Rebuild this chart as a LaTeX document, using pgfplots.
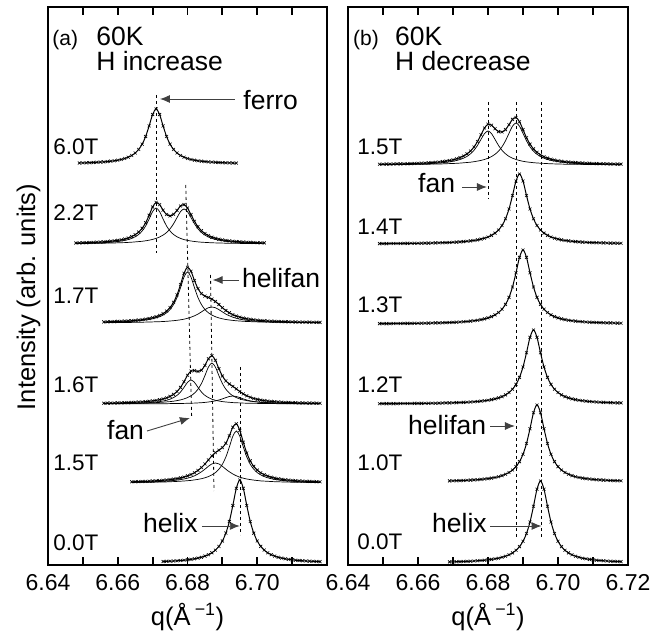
\documentclass[border=0pt]{standalone}
\usepackage{fontspec}
\setmainfont{Liberation Sans}
\usepackage{pgfplots}
\usepackage{pgfplotstable}
\pgfplotsset{compat=1.18}
\usetikzlibrary{arrows.meta}

% Stacked diffraction profiles: q (1/A) against intensity (offset units).
% Columns: t = measured/fitted total, other columns = fit components.

% ---------- (a) field increasing ----------
\pgfplotstableread[row sep=\\]{
q t\\
6.649 402.0\\6.650 402.1\\6.651 402.2\\6.652 402.3\\6.653 402.5\\6.654 402.7\\6.655 402.9\\6.656 403.1\\
6.657 403.4\\6.658 403.8\\6.659 404.2\\6.660 404.8\\6.661 405.5\\6.662 406.5\\6.663 407.8\\6.664 409.5\\
6.665 412.0\\6.666 415.6\\6.667 420.8\\6.668 428.5\\6.669 439.1\\6.670 450.5\\6.671 456.0\\6.672 450.5\\
6.673 439.1\\6.674 428.5\\6.675 420.8\\6.676 415.6\\6.677 412.0\\6.678 409.5\\6.679 407.8\\6.680 406.5\\
6.681 405.5\\6.682 404.8\\6.683 404.2\\6.684 403.8\\6.685 403.4\\6.686 403.1\\6.687 402.9\\6.688 402.7\\
6.689 402.5\\6.690 402.3\\6.691 402.2\\6.692 402.1\\6.693 402.0\\6.694 401.9\\
}\Lsix

\pgfplotstableread[row sep=\\]{
q a b t\\
6.648 321.6 321.4 322.0\\6.649 321.7 321.5 322.1\\6.650 321.7 321.5 322.2\\6.651 321.8 321.5 322.3\\
6.652 321.9 321.6 322.5\\6.653 322.0 321.6 322.6\\6.654 322.1 321.7 322.8\\6.655 322.2 321.7 323.0\\
6.656 322.4 321.8 323.2\\6.657 322.6 321.9 323.4\\6.658 322.8 322.0 323.8\\6.659 323.1 322.0 324.2\\
6.660 323.5 322.2 324.6\\6.661 324.0 322.3 325.2\\6.662 324.6 322.4 326.0\\6.663 325.4 322.6 327.0\\
6.664 326.6 322.8 328.4\\6.665 328.2 323.1 330.3\\6.666 330.5 323.4 332.9\\6.667 334.0 323.7 336.7\\
6.668 339.0 324.2 342.2\\6.669 345.9 324.8 349.7\\6.670 353.4 325.6 358.0\\6.671 357.0 326.6 362.6\\
6.672 353.4 328.0 360.4\\6.673 345.9 329.9 354.8\\6.674 339.0 332.5 350.5\\6.675 334.0 336.2 349.1\\
6.676 330.5 341.2 350.7\\6.677 328.2 347.4 354.6\\6.678 326.6 353.4 359.0\\6.679 325.4 356.0 360.4\\
6.680 324.6 353.4 357.0\\6.681 324.0 347.4 350.4\\6.682 323.5 341.2 343.7\\6.683 323.1 336.2 338.3\\
6.684 322.8 332.5 334.3\\6.685 322.6 329.9 331.5\\6.686 322.4 328.0 329.4\\6.687 322.2 326.6 327.8\\
6.688 322.1 325.6 326.7\\6.689 322.0 324.8 325.8\\6.690 321.9 324.2 325.1\\6.691 321.8 323.7 324.5\\
6.692 321.7 323.4 324.1\\6.693 321.7 323.1 323.7\\6.694 321.6 322.8 323.4\\6.695 321.6 322.6 323.2\\
6.696 321.5 322.4 322.9\\6.697 321.5 322.3 322.7\\6.698 321.4 322.2 322.6\\6.699 321.4 322.0 322.5\\
6.700 321.4 322.0 322.3\\6.701 321.4 321.9 322.2\\6.702 321.3 321.8 322.1\\
}\Ltwo

\pgfplotstableread[row sep=\\]{
q a c t\\
6.656 242.8 242.3 243.1\\6.657 242.9 242.4 243.2\\6.658 242.9 242.4 243.3\\6.659 243.0 242.4 243.4\\
6.660 243.1 242.4 243.6\\6.661 243.2 242.5 243.7\\6.662 243.4 242.5 243.9\\6.663 243.5 242.5 244.1\\
6.664 243.7 242.6 244.3\\6.665 244.0 242.6 244.6\\6.666 244.2 242.7 244.9\\6.667 244.6 242.8 245.4\\
6.668 245.0 242.9 245.9\\6.669 245.5 242.9 246.5\\6.670 246.2 243.1 247.3\\6.671 247.1 243.2 248.3\\
6.672 248.3 243.3 249.6\\6.673 249.9 243.5 251.4\\6.674 252.2 243.7 253.9\\6.675 255.5 244.0 257.5\\
6.676 260.4 244.3 262.7\\6.677 267.5 244.7 270.2\\6.678 277.3 245.2 280.5\\6.679 287.9 245.8 291.7\\
6.680 293.0 246.7 297.7\\6.681 287.9 247.8 293.7\\6.682 277.3 249.2 284.5\\6.683 267.5 250.9 276.4\\
6.684 260.4 253.1 271.4\\6.685 255.5 255.4 268.9\\6.686 252.2 257.3 267.5\\6.687 249.9 258.0 265.9\\
6.688 248.3 257.3 263.5\\6.689 247.1 255.4 260.5\\6.690 246.2 253.1 257.3\\6.691 245.5 250.9 254.5\\
6.692 245.0 249.2 252.2\\6.693 244.6 247.8 250.3\\6.694 244.2 246.7 248.9\\6.695 244.0 245.8 247.8\\
6.696 243.7 245.2 246.9\\6.697 243.5 244.7 246.2\\6.698 243.4 244.3 245.7\\6.699 243.2 244.0 245.2\\
6.700 243.1 243.7 244.8\\6.701 243.0 243.5 244.5\\6.702 242.9 243.3 244.3\\6.703 242.9 243.2 244.0\\
6.704 242.8 243.1 243.8\\6.705 242.7 242.9 243.7\\6.706 242.7 242.9 243.5\\6.707 242.6 242.8 243.4\\
6.708 242.6 242.7 243.3\\6.709 242.5 242.6 243.2\\6.710 242.5 242.6 243.1\\6.711 242.5 242.5 243.0\\
6.712 242.4 242.5 242.9\\6.713 242.4 242.5 242.9\\6.714 242.4 242.4 242.8\\6.715 242.4 242.4 242.8\\
6.716 242.4 242.4 242.7\\6.717 242.3 242.4 242.7\\6.718 242.3 242.3 242.6\\
}\Lsev

\pgfplotstableread[row sep=\\]{
q f h x t\\
6.656 161.3 161.4 161.1 161.8\\6.657 161.4 161.4 161.1 161.9\\6.658 161.4 161.4 161.1 161.9\\
6.659 161.4 161.5 161.1 162.0\\6.660 161.5 161.5 161.1 162.1\\6.661 161.5 161.5 161.1 162.2\\
6.662 161.6 161.6 161.1 162.3\\6.663 161.7 161.6 161.1 162.4\\6.664 161.7 161.7 161.2 162.6\\
6.665 161.8 161.8 161.2 162.7\\6.666 161.9 161.8 161.2 162.9\\6.667 162.1 161.9 161.2 163.1\\
6.668 162.2 162.0 161.2 163.4\\6.669 162.4 162.1 161.2 163.7\\6.670 162.7 162.2 161.2 164.1\\
6.671 163.0 162.4 161.3 164.6\\6.672 163.4 162.6 161.3 165.3\\6.673 164.0 162.8 161.3 166.1\\
6.674 164.7 163.1 161.3 167.1\\6.675 165.8 163.4 161.4 168.6\\6.676 167.4 163.8 161.4 170.6\\
6.677 169.6 164.4 161.5 173.5\\6.678 173.0 165.1 161.5 177.6\\6.679 177.6 166.1 161.6 183.3\\
6.680 182.6 167.4 161.7 189.7\\6.681 185.0 169.2 161.8 194.0\\6.682 182.6 171.9 161.9 194.4\\
6.683 177.6 175.8 162.1 193.5\\6.684 173.0 181.5 162.3 194.8\\6.685 169.6 189.4 162.6 199.6\\
6.686 167.4 197.9 163.0 206.2\\6.687 165.8 202.0 163.5 209.3\\6.688 164.7 197.9 164.1 204.7\\
6.689 164.0 189.4 165.0 196.3\\6.690 163.4 181.5 166.1 189.0\\6.691 163.0 175.8 167.4 184.1\\
6.692 162.7 171.9 168.5 181.0\\6.693 162.4 169.2 169.0 178.6\\6.694 162.2 167.4 168.5 176.1\\
6.695 162.1 166.1 167.4 173.5\\6.696 161.9 165.1 166.1 171.1\\6.697 161.8 164.4 165.0 169.2\\
6.698 161.7 163.8 164.1 167.7\\6.699 161.7 163.4 163.5 166.5\\6.700 161.6 163.1 163.0 165.6\\
6.701 161.5 162.8 162.6 164.9\\6.702 161.5 162.6 162.3 164.4\\6.703 161.4 162.4 162.1 163.9\\
6.704 161.4 162.2 161.9 163.6\\6.705 161.4 162.1 161.8 163.3\\6.706 161.3 162.0 161.7 163.0\\
6.707 161.3 161.9 161.6 162.8\\6.708 161.3 161.8 161.5 162.6\\6.709 161.3 161.8 161.5 162.5\\
6.710 161.3 161.7 161.4 162.4\\6.711 161.2 161.6 161.4 162.3\\6.712 161.2 161.6 161.3 162.1\\
6.713 161.2 161.5 161.3 162.1\\6.714 161.2 161.5 161.3 162.0\\6.715 161.2 161.5 161.3 161.9\\
6.716 161.2 161.4 161.2 161.9\\6.717 161.2 161.4 161.2 161.8\\6.718 161.2 161.4 161.2 161.7\\
}\Lsxt

\pgfplotstableread[row sep=\\]{
q f m t\\
6.664 82.7 82.5 83.2\\6.665 82.7 82.6 83.3\\6.666 82.8 82.6 83.4\\6.667 82.9 82.6 83.5\\
6.668 83.0 82.7 83.6\\6.669 83.1 82.7 83.8\\6.670 83.2 82.8 84.0\\6.671 83.3 82.9 84.2\\
6.672 83.5 83.0 84.4\\6.673 83.7 83.0 84.7\\6.674 83.9 83.1 85.0\\6.675 84.1 83.3 85.4\\
6.676 84.5 83.4 85.9\\6.677 84.9 83.6 86.4\\6.678 85.4 83.8 87.1\\6.679 86.0 84.0 88.0\\
6.680 86.8 84.3 89.1\\6.681 87.8 84.6 90.5\\6.682 89.2 85.1 92.3\\6.683 91.0 85.6 94.6\\
6.684 93.2 86.3 97.5\\6.685 95.8 87.2 101.0\\6.686 98.7 88.4 105.1\\6.687 101.1 90.1 109.1\\
6.688 102.0 92.4 112.4\\6.689 101.1 95.8 114.8\\6.690 98.7 100.7 117.4\\6.691 95.8 108.0 121.8\\
6.692 93.2 118.0 129.2\\6.693 91.0 128.8 137.8\\6.694 89.2 134.0 141.2\\6.695 87.8 128.8 134.6\\
6.696 86.8 118.0 122.8\\6.697 86.0 108.0 112.0\\6.698 85.4 100.7 104.1\\6.699 84.9 95.8 98.6\\
6.700 84.5 92.4 94.9\\6.701 84.1 90.1 92.2\\6.702 83.9 88.4 90.3\\6.703 83.7 87.2 88.9\\
6.704 83.5 86.3 87.8\\6.705 83.3 85.6 86.9\\6.706 83.2 85.1 86.2\\6.707 83.1 84.6 85.7\\
6.708 83.0 84.3 85.2\\6.709 82.9 84.0 84.9\\6.710 82.8 83.8 84.6\\6.711 82.7 83.6 84.3\\
6.712 82.7 83.4 84.1\\6.713 82.6 83.3 83.9\\6.714 82.6 83.1 83.7\\6.715 82.5 83.0 83.6\\
6.716 82.5 83.0 83.5\\6.717 82.5 82.9 83.3\\6.718 82.4 82.8 83.2\\
}\Lfiv

\pgfplotstableread[row sep=\\]{
q t\\
6.673 3.5\\6.674 3.7\\6.675 3.8\\6.676 4.0\\6.677 4.2\\6.678 4.5\\6.679 4.8\\6.680 5.2\\6.681 5.6\\
6.682 6.2\\6.683 6.9\\6.684 7.7\\6.685 8.9\\6.686 10.3\\6.687 12.2\\6.688 14.9\\6.689 18.6\\6.690 24.0\\
6.691 31.9\\6.692 43.5\\6.693 59.5\\6.694 76.7\\6.695 85.0\\6.696 76.7\\6.697 59.5\\6.698 43.5\\6.699 31.9\\
6.700 24.0\\6.701 18.6\\6.702 14.9\\6.703 12.2\\6.704 10.3\\6.705 8.9\\6.706 7.7\\6.707 6.9\\6.708 6.2\\
6.709 5.6\\6.710 5.2\\6.711 4.8\\6.712 4.5\\6.713 4.2\\6.714 4.0\\6.715 3.8\\6.716 3.7\\6.717 3.5\\6.718 3.4\\
}\Lzer

% ---------- (b) field decreasing ----------
\pgfplotstableread[row sep=\\]{
q a b t\\
6.649 400.4 400.3 400.8\\6.650 400.5 400.4 400.8\\6.651 400.5 400.4 400.9\\6.652 400.5 400.4 400.9\\
6.653 400.6 400.4 401.0\\6.654 400.6 400.4 401.1\\6.655 400.7 400.5 401.1\\6.656 400.7 400.5 401.2\\
6.657 400.8 400.5 401.3\\6.658 400.8 400.6 401.4\\6.659 400.9 400.6 401.5\\6.660 401.0 400.7 401.7\\
6.661 401.1 400.7 401.8\\6.662 401.2 400.8 402.0\\6.663 401.4 400.8 402.2\\6.664 401.6 400.9 402.4\\
6.665 401.8 401.0 402.7\\6.666 402.0 401.0 403.0\\6.667 402.3 401.1 403.4\\6.668 402.7 401.3 403.9\\
6.669 403.1 401.4 404.5\\6.670 403.7 401.5 405.2\\6.671 404.5 401.7 406.2\\6.672 405.5 401.9 407.4\\
6.673 406.8 402.2 409.0\\6.674 408.6 402.5 411.1\\6.675 411.2 402.8 414.0\\6.676 414.7 403.3 418.0\\
6.677 419.6 403.9 423.5\\6.678 425.6 404.6 430.2\\6.679 431.4 405.5 437.0\\6.680 434.0 406.8 440.8\\
6.681 431.4 408.4 439.8\\6.682 425.6 410.7 436.3\\6.683 419.6 413.8 433.4\\6.684 414.7 418.2 433.0\\
6.685 411.2 424.2 435.4\\6.686 408.6 431.7 440.3\\6.687 406.8 438.8 445.6\\6.688 405.5 442.0 447.5\\
6.689 404.5 438.8 443.3\\6.690 403.7 431.7 435.4\\6.691 403.1 424.2 427.3\\6.692 402.7 418.2 420.9\\
6.693 402.3 413.8 416.1\\6.694 402.0 410.7 412.7\\6.695 401.8 408.4 410.2\\6.696 401.6 406.8 408.3\\
6.697 401.4 405.5 406.9\\6.698 401.2 404.6 405.8\\6.699 401.1 403.9 405.0\\6.700 401.0 403.3 404.3\\
6.701 400.9 402.8 403.8\\6.702 400.8 402.5 403.3\\6.703 400.8 402.2 402.9\\6.704 400.7 401.9 402.6\\
6.705 400.7 401.7 402.4\\6.706 400.6 401.5 402.1\\6.707 400.6 401.4 401.9\\6.708 400.5 401.3 401.8\\
6.709 400.5 401.1 401.6\\6.710 400.5 401.0 401.5\\6.711 400.4 401.0 401.4\\6.712 400.4 400.9 401.3\\
6.713 400.4 400.8 401.2\\6.714 400.4 400.8 401.1\\6.715 400.3 400.7 401.0\\6.716 400.3 400.7 401.0\\
6.717 400.3 400.6 400.9\\6.718 400.3 400.6 400.9\\
}\Rfiv

\pgfplotstableread[row sep=\\]{
q t\\
6.649 321.4\\6.650 321.4\\6.651 321.4\\6.652 321.5\\6.653 321.5\\6.654 321.5\\6.655 321.5\\6.656 321.6\\
6.657 321.6\\6.658 321.7\\6.659 321.7\\6.660 321.7\\6.661 321.8\\6.662 321.9\\6.663 321.9\\6.664 322.0\\
6.665 322.1\\6.666 322.2\\6.667 322.3\\6.668 322.4\\6.669 322.5\\6.670 322.7\\6.671 322.9\\6.672 323.1\\
6.673 323.4\\6.674 323.7\\6.675 324.1\\6.676 324.5\\6.677 325.1\\6.678 325.9\\6.679 326.8\\6.680 328.0\\
6.681 329.6\\6.682 331.9\\6.683 335.0\\6.684 339.5\\6.685 346.2\\6.686 356.0\\6.687 369.5\\6.688 384.0\\
6.689 391.0\\6.690 384.0\\6.691 369.5\\6.692 356.0\\6.693 346.2\\6.694 339.5\\6.695 335.0\\6.696 331.9\\
6.697 329.6\\6.698 328.0\\6.699 326.8\\6.700 325.9\\6.701 325.1\\6.702 324.5\\6.703 324.1\\6.704 323.7\\
6.705 323.4\\6.706 323.1\\6.707 322.9\\6.708 322.7\\6.709 322.5\\6.710 322.4\\6.711 322.3\\6.712 322.2\\
6.713 322.1\\6.714 322.0\\6.715 321.9\\6.716 321.9\\6.717 321.8\\6.718 321.7\\
}\Rfor

\pgfplotstableread[row sep=\\]{
q t\\
6.649 241.4\\6.650 241.4\\6.651 241.4\\6.652 241.4\\6.653 241.5\\6.654 241.5\\6.655 241.5\\6.656 241.6\\
6.657 241.6\\6.658 241.6\\6.659 241.7\\6.660 241.7\\6.661 241.8\\6.662 241.8\\6.663 241.9\\6.664 242.0\\
6.665 242.1\\6.666 242.1\\6.667 242.2\\6.668 242.4\\6.669 242.5\\6.670 242.6\\6.671 242.8\\6.672 243.0\\
6.673 243.2\\6.674 243.5\\6.675 243.9\\6.676 244.3\\6.677 244.7\\6.678 245.4\\6.679 246.1\\6.680 247.1\\
6.681 248.4\\6.682 250.1\\6.683 252.5\\6.684 255.8\\6.685 260.6\\6.686 267.6\\6.687 278.0\\6.688 292.2\\
6.689 307.6\\6.690 315.0\\6.691 307.6\\6.692 292.2\\6.693 278.0\\6.694 267.6\\6.695 260.6\\6.696 255.8\\
6.697 252.5\\6.698 250.1\\6.699 248.4\\6.700 247.1\\6.701 246.1\\6.702 245.4\\6.703 244.7\\6.704 244.3\\
6.705 243.9\\6.706 243.5\\6.707 243.2\\6.708 243.0\\6.709 242.8\\6.710 242.6\\6.711 242.5\\6.712 242.4\\
6.713 242.2\\6.714 242.1\\6.715 242.1\\6.716 242.0\\6.717 241.9\\6.718 241.8\\
}\Rthr

\pgfplotstableread[row sep=\\]{
q t\\
6.649 161.3\\6.650 161.4\\6.651 161.4\\6.652 161.4\\6.653 161.4\\6.654 161.4\\6.655 161.5\\6.656 161.5\\
6.657 161.5\\6.658 161.5\\6.659 161.6\\6.660 161.6\\6.661 161.6\\6.662 161.7\\6.663 161.7\\6.664 161.8\\
6.665 161.8\\6.666 161.9\\6.667 162.0\\6.668 162.1\\6.669 162.1\\6.670 162.2\\6.671 162.4\\6.672 162.5\\
6.673 162.6\\6.674 162.8\\6.675 163.0\\6.676 163.2\\6.677 163.5\\6.678 163.9\\6.679 164.3\\6.680 164.7\\
6.681 165.4\\6.682 166.1\\6.683 167.1\\6.684 168.4\\6.685 170.1\\6.686 172.5\\6.687 175.8\\6.688 180.6\\
6.689 187.6\\6.690 198.0\\6.691 212.2\\6.692 227.6\\6.693 235.0\\6.694 227.6\\6.695 212.2\\6.696 198.0\\
6.697 187.6\\6.698 180.6\\6.699 175.8\\6.700 172.5\\6.701 170.1\\6.702 168.4\\6.703 167.1\\6.704 166.1\\
6.705 165.4\\6.706 164.7\\6.707 164.3\\6.708 163.9\\6.709 163.5\\6.710 163.2\\6.711 163.0\\6.712 162.8\\
6.713 162.6\\6.714 162.5\\6.715 162.4\\6.716 162.2\\6.717 162.1\\6.718 162.1\\
}\Rtwo

\pgfplotstableread[row sep=\\]{
q t\\
6.669 84.1\\6.670 84.2\\6.671 84.3\\6.672 84.4\\6.673 84.5\\6.674 84.7\\6.675 84.9\\6.676 85.1\\
6.677 85.3\\6.678 85.6\\6.679 86.0\\6.680 86.4\\6.681 86.9\\6.682 87.5\\6.683 88.3\\6.684 89.4\\
6.685 90.7\\6.686 92.5\\6.687 95.0\\6.688 98.4\\6.689 103.4\\6.690 110.7\\6.691 121.5\\6.692 136.3\\
6.693 152.3\\6.694 160.0\\6.695 152.3\\6.696 136.3\\6.697 121.5\\6.698 110.7\\6.699 103.4\\6.700 98.4\\
6.701 95.0\\6.702 92.5\\6.703 90.7\\6.704 89.4\\6.705 88.3\\6.706 87.5\\6.707 86.9\\6.708 86.4\\
6.709 86.0\\6.710 85.6\\6.711 85.3\\6.712 85.1\\6.713 84.9\\6.714 84.7\\6.715 84.5\\6.716 84.4\\
6.717 84.3\\6.718 84.2\\
}\Rone

\pgfplotstableread[row sep=\\]{
q t\\
6.669 3.1\\6.670 3.2\\6.671 3.3\\6.672 3.4\\6.673 3.5\\6.674 3.6\\6.675 3.8\\6.676 4.0\\6.677 4.2\\
6.678 4.5\\6.679 4.8\\6.680 5.2\\6.681 5.6\\6.682 6.2\\6.683 6.8\\6.684 7.7\\6.685 8.8\\6.686 10.2\\
6.687 12.1\\6.688 14.7\\6.689 18.4\\6.690 23.7\\6.691 31.5\\6.692 43.0\\6.693 58.8\\6.694 75.8\\
6.695 84.0\\6.696 75.8\\6.697 58.8\\6.698 43.0\\6.699 31.5\\6.700 23.7\\6.701 18.4\\6.702 14.7\\
6.703 12.1\\6.704 10.2\\6.705 8.8\\6.706 7.7\\6.707 6.8\\6.708 6.2\\6.709 5.6\\6.710 5.2\\6.711 4.8\\
6.712 4.5\\6.713 4.2\\6.714 4.0\\6.715 3.8\\6.716 3.6\\6.717 3.5\\6.718 3.4\\
}\Rzer

\newcommand\fsTick{\fontsize{23}{23}\selectfont}
\newcommand\fsField{\fontsize{22.5}{22.5}\selectfont}
\newcommand\fsHead{\fontsize{26.5}{26.5}\selectfont}
\newcommand\fsTag{\fontsize{21}{21}\selectfont}
\newcommand\fsNote{\fontsize{26.5}{26.5}\selectfont}
\newcommand\fsLab{\fontsize{25.5}{25.5}\selectfont}

\tikzset{
  guide/.style={dash pattern=on 3pt off 3pt, line width=0.8pt, black},
  pointer/.style={-{Latex[length=10pt,width=8pt]}, line width=0.9pt, black!75},
  tagtext/.style={anchor=base west, inner sep=0pt},
}

\pgfplotsset{
  panel/.style={
    scale only axis, height=558pt, anchor=south west,
    xmin=6.64, xmax=6.72, ymin=0, ymax=558, clip=false,
    axis line style={line width=2.2pt},
    ytick=\empty,
    xtick={6.64,6.65,6.66,6.67,6.68,6.69,6.70,6.71,6.72},
    xtick pos=both, tick align=inside, major tick length=8pt,
    tick style={black, line width=1.8pt},
    xticklabel style={font=\fsTick, inner sep=0pt, text height=16.5pt, text depth=0pt, yshift=-9pt},
  },
  dat/.style={only marks, mark=x, mark size=2.1pt, mark options={line width=0.6pt, black}},
  fit/.style={no marks, smooth, line width=1.0pt, black},
  comp/.style={no marks, smooth, line width=0.7pt, black},
}

\begin{document}
\begin{tikzpicture}
\path[use as bounding box] (0,0) rectangle (666pt,637pt);

\node[rotate=90, anchor=base, font=\fsLab] at (35pt,340pt) {Intensity (arb. units)};
\node[anchor=base, font=\fsLab] at (187.5pt,12pt) {q(Å\,\textsuperscript{−1})};
\node[anchor=base, font=\fsLab] at (488pt,12pt) {q(Å\,\textsuperscript{−1})};

% ---------------- panel (a) ----------------
\begin{axis}[panel, width=279pt, at={(48pt,72pt)},
  xticklabels={6.64,,6.66,,6.68,,6.70,,}]
  % guide lines at peak positions
  \draw[guide] (axis cs:6.671,470) -- (axis cs:6.671,312);
  \draw[guide] (axis cs:6.6795,380) -- (axis cs:6.6812,147);
  \draw[guide] (axis cs:6.6866,290) -- (axis cs:6.6876,74);
  \draw[guide] (axis cs:6.6951,198) -- (axis cs:6.6951,30);

  % 6.0 T
  \addplot[fit] table[x=q,y=t] {\Lsix};
  \addplot[dat] table[x=q,y=t] {\Lsix};
  % 2.2 T
  \addplot[comp] table[x=q,y=a] {\Ltwo};
  \addplot[comp] table[x=q,y=b] {\Ltwo};
  \addplot[fit] table[x=q,y=t] {\Ltwo};
  \addplot[dat] table[x=q,y=t] {\Ltwo};
  % 1.7 T
  \addplot[comp] table[x=q,y=a] {\Lsev};
  \addplot[comp] table[x=q,y=c] {\Lsev};
  \addplot[fit] table[x=q,y=t] {\Lsev};
  \addplot[dat] table[x=q,y=t] {\Lsev};
  % 1.6 T
  \addplot[comp] table[x=q,y=f] {\Lsxt};
  \addplot[comp] table[x=q,y=h] {\Lsxt};
  \addplot[comp] table[x=q,y=x] {\Lsxt};
  \addplot[fit] table[x=q,y=t] {\Lsxt};
  \addplot[dat] table[x=q,y=t] {\Lsxt};
  % 1.5 T
  \addplot[comp] table[x=q,y=f] {\Lfiv};
  \addplot[comp] table[x=q,y=m] {\Lfiv};
  \addplot[fit] table[x=q,y=t] {\Lfiv};
  \addplot[dat] table[x=q,y=t] {\Lfiv};
  % 0.0 T
  \addplot[fit] table[x=q,y=t] {\Lzer};
  \addplot[dat] table[x=q,y=t] {\Lzer};

  \node[tagtext, font=\fsTag] at (axis cs:6.6412,519) {(a)};
  \node[tagtext, font=\fsHead] at (axis cs:6.6538,519) {60K};
  \node[tagtext, font=\fsHead] at (axis cs:6.6538,494) {H increase};

  \node[tagtext, font=\fsField] at (axis cs:6.6415,410.5) {6.0T};
  \node[tagtext, font=\fsField] at (axis cs:6.6415,344.5) {2.2T};
  \node[tagtext, font=\fsField] at (axis cs:6.6415,261) {1.7T};
  \node[tagtext, font=\fsField] at (axis cs:6.6415,172.5) {1.6T};
  \node[tagtext, font=\fsField] at (axis cs:6.6415,94.5) {1.5T};
  \node[tagtext, font=\fsField] at (axis cs:6.6415,14.5) {0.0T};

  \draw[pointer] (axis cs:6.6936,466) -- (axis cs:6.6721,466);
  \node[tagtext, font=\fsNote] at (axis cs:6.6960,455) {ferro};
  \draw[pointer] (axis cs:6.6948,285) -- (axis cs:6.6872,285);
  \node[tagtext, font=\fsNote] at (axis cs:6.6956,277) {helifan};
  \draw[pointer] (axis cs:6.6684,134) -- (axis cs:6.6807,147);
  \node[tagtext, font=\fsNote] at (axis cs:6.6569,125) {fan};
  \draw[pointer] (axis cs:6.6841,39) -- (axis cs:6.6950,39);
  \node[tagtext, font=\fsNote] at (axis cs:6.6672,32) {helix};
\end{axis}

% ---------------- panel (b) ----------------
\begin{axis}[panel, width=280pt, at={(348pt,72pt)},
  xticklabels={6.64,,6.66,,6.68,,6.70,,6.72}]
  \draw[guide] (axis cs:6.680,463) -- (axis cs:6.680,366);
  \draw[guide] (axis cs:6.688,463) -- (axis cs:6.688,27);
  \draw[guide] (axis cs:6.6952,463) -- (axis cs:6.6952,27);

  % 1.5 T
  \addplot[comp] table[x=q,y=a] {\Rfiv};
  \addplot[comp] table[x=q,y=b] {\Rfiv};
  \addplot[fit] table[x=q,y=t] {\Rfiv};
  \addplot[dat] table[x=q,y=t] {\Rfiv};
  % 1.4 T
  \addplot[fit] table[x=q,y=t] {\Rfor};
  \addplot[dat] table[x=q,y=t] {\Rfor};
  % 1.3 T
  \addplot[fit] table[x=q,y=t] {\Rthr};
  \addplot[dat] table[x=q,y=t] {\Rthr};
  % 1.2 T
  \addplot[fit] table[x=q,y=t] {\Rtwo};
  \addplot[dat] table[x=q,y=t] {\Rtwo};
  % 1.0 T
  \addplot[fit] table[x=q,y=t] {\Rone};
  \addplot[dat] table[x=q,y=t] {\Rone};
  % 0.0 T
  \addplot[fit] table[x=q,y=t] {\Rzer};
  \addplot[dat] table[x=q,y=t] {\Rzer};

  \node[tagtext, font=\fsTag] at (axis cs:6.6414,519) {(b)};
  \node[tagtext, font=\fsHead] at (axis cs:6.6534,519) {60K};
  \node[tagtext, font=\fsHead] at (axis cs:6.6534,494) {H decrease};

  \node[tagtext, font=\fsField] at (axis cs:6.6426,410.5) {1.5T};
  \node[tagtext, font=\fsField] at (axis cs:6.6426,330.5) {1.4T};
  \node[tagtext, font=\fsField] at (axis cs:6.6426,252.5) {1.3T};
  \node[tagtext, font=\fsField] at (axis cs:6.6426,172.5) {1.2T};
  \node[tagtext, font=\fsField] at (axis cs:6.6426,94.5) {1.0T};
  \node[tagtext, font=\fsField] at (axis cs:6.6426,15.5) {0.0T};

  \draw[pointer] (axis cs:6.6726,378) -- (axis cs:6.6797,378);
  \node[tagtext, font=\fsNote] at (axis cs:6.6600,372) {fan};
  \draw[pointer] (axis cs:6.6806,139) -- (axis cs:6.6877,139);
  \node[tagtext, font=\fsNote] at (axis cs:6.6571,130) {helifan};
  \draw[pointer] (axis cs:6.6806,39) -- (axis cs:6.6953,39);
  \node[tagtext, font=\fsNote] at (axis cs:6.6640,33) {helix};
\end{axis}
\end{tikzpicture}
\end{document}
